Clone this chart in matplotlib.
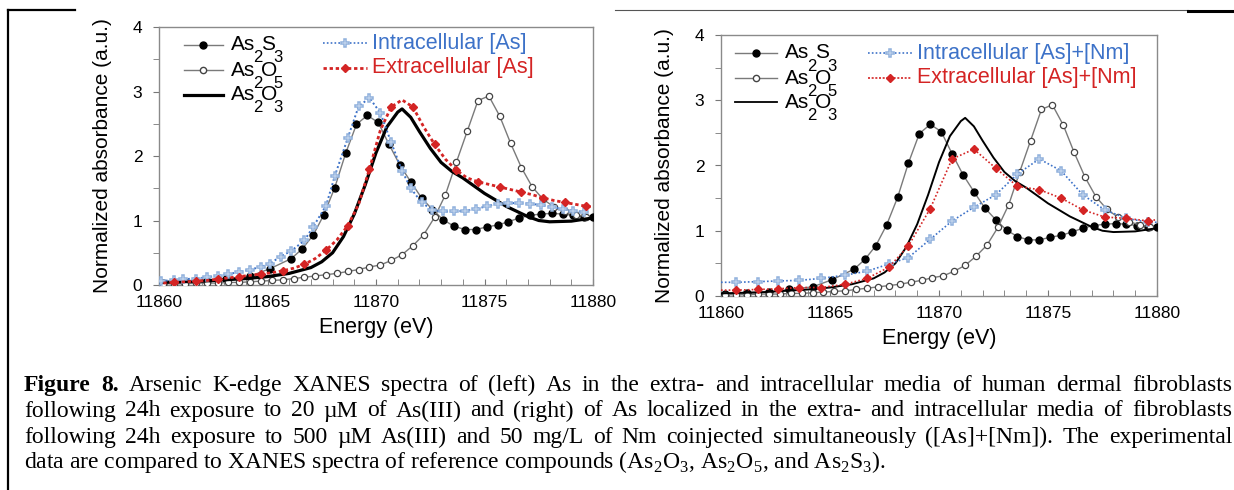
import matplotlib
matplotlib.use("Agg")
import matplotlib.pyplot as plt
from matplotlib.lines import Line2D
import numpy as np

plt.rcParams["font.family"] = ["Liberation Sans", "DejaVu Sans"]
plt.rcParams["mathtext.fontset"] = "custom"
plt.rcParams["mathtext.rm"] = "Liberation Serif"

W, H = 1234, 490

# ── reference compounds (same spectra in both panels) ─────────────────────
E_S3 = [11860.2, 11861.2, 11862.2, 11863.1, 11864.2, 11865.1, 11866.1, 11866.6,
        11867.1, 11867.6, 11868.1, 11868.6, 11869.1, 11869.6, 11870.1, 11870.6,
        11871.1, 11871.6, 11872.1, 11872.6, 11873.1, 11873.6, 11874.1, 11874.6,
        11875.1, 11875.6, 11876.1, 11876.6, 11877.1, 11877.6, 11878.1, 11878.6,
        11879.1, 11879.6, 11880.0]
AS2S3 = [0.03, 0.04, 0.06, 0.10, 0.14, 0.25, 0.41, 0.56, 0.77, 1.09, 1.51, 2.04,
         2.49, 2.63, 2.52, 2.18, 1.86, 1.60, 1.35, 1.17, 1.01, 0.91, 0.86, 0.86,
         0.90, 0.93, 0.98, 1.04, 1.08, 1.10, 1.11, 1.10, 1.08, 1.06, 1.05]

E_O5 = [11860.2, 11860.7, 11861.2, 11861.7, 11862.2, 11862.7, 11863.2, 11863.7,
        11864.2, 11864.7, 11865.2, 11865.7, 11866.2, 11866.7, 11867.2, 11867.7,
        11868.2, 11868.7, 11869.2, 11869.7, 11870.2, 11870.7, 11871.2, 11871.7,
        11872.2, 11872.7, 11873.2, 11873.7, 11874.2, 11874.7, 11875.2, 11875.7,
        11876.2, 11876.7, 11877.2, 11877.7, 11878.2, 11878.7, 11879.2, 11879.7]
AS2O5 = [0.02, 0.02, 0.02, 0.03, 0.03, 0.03, 0.04, 0.04, 0.05, 0.06, 0.07, 0.08,
         0.10, 0.12, 0.14, 0.16, 0.18, 0.21, 0.24, 0.28, 0.31, 0.38, 0.47, 0.61,
         0.78, 1.05, 1.40, 1.90, 2.38, 2.86, 2.93, 2.62, 2.20, 1.82, 1.52, 1.33,
         1.21, 1.14, 1.09, 1.06]

E_O3 = [11860, 11861, 11862, 11863, 11864, 11865, 11866, 11867, 11867.5, 11868,
        11868.5, 11869, 11869.5, 11870, 11870.5, 11871, 11871.2, 11871.6, 11872,
        11872.5, 11873, 11873.5, 11874, 11875, 11876, 11877, 11877.5, 11878,
        11879, 11880]
AS2O3 = [0.04, 0.05, 0.06, 0.08, 0.10, 0.13, 0.18, 0.27, 0.36, 0.50, 0.75, 1.10,
         1.55, 2.05, 2.45, 2.68, 2.73, 2.60, 2.38, 2.12, 1.90, 1.76, 1.66, 1.42,
         1.22, 1.06, 1.00, 0.98, 0.99, 1.04]

# ── left panel: 20 uM As(III) ─────────────────────────────────────────────
E_IN_L = [11860.1, 11860.7, 11861.1, 11861.7, 11862.2, 11862.7, 11863.2, 11863.7,
          11864.2, 11864.7, 11865.1, 11865.6, 11866.1, 11866.7, 11867.1, 11867.7,
          11868.1, 11868.7, 11869.2, 11869.7, 11870.2, 11870.7, 11871.2, 11871.6,
          11872.1, 11872.6, 11873.1, 11873.6, 11874.1, 11874.6, 11875.1, 11875.6,
          11876.1, 11876.6, 11877.1, 11877.6, 11878.1, 11878.6, 11879.1, 11879.6]
INTRA_L = [0.06, 0.08, 0.09, 0.10, 0.12, 0.14, 0.17, 0.20, 0.24, 0.28, 0.33, 0.44,
           0.53, 0.69, 0.90, 1.23, 1.69, 2.28, 2.77, 2.90, 2.67, 2.21, 1.77, 1.50,
           1.28, 1.16, 1.14, 1.14, 1.15, 1.18, 1.22, 1.26, 1.27, 1.27, 1.26, 1.24,
           1.21, 1.18, 1.15, 1.13]

E_EX_L = [11860.2, 11860.7, 11861.2, 11861.7, 11862.2, 11862.7, 11863.2, 11863.7,
          11864.2, 11864.7, 11865.2, 11865.7, 11866.2, 11866.7, 11867.2, 11867.7,
          11868.2, 11868.7, 11869.2, 11869.7, 11870.2, 11870.7, 11871.2, 11871.7,
          11872.2, 11872.7, 11873.2, 11873.7, 11874.2, 11874.7, 11875.2, 11875.7,
          11876.2, 11876.7, 11877.2, 11877.7, 11878.2, 11878.7, 11879.2, 11879.7,
          11880.0]
EXTRA_L = [0.03, 0.04, 0.05, 0.06, 0.07, 0.09, 0.11, 0.13, 0.15, 0.17, 0.19, 0.22,
           0.26, 0.32, 0.41, 0.54, 0.70, 0.92, 1.25, 1.80, 2.40, 2.76, 2.87, 2.76,
           2.45, 2.18, 1.95, 1.78, 1.66, 1.60, 1.56, 1.52, 1.48, 1.44, 1.40, 1.35,
           1.31, 1.28, 1.25, 1.22, 1.21]

# ── right panel: 500 uM As(III) + 50 mg/L Nm ─────────────────────────────
E_NM = [11860.0, 11860.7, 11861.7, 11862.6, 11863.6, 11864.6, 11865.7, 11866.7,
        11867.7, 11868.6, 11869.6, 11870.6, 11871.6, 11872.6, 11873.6, 11874.6,
        11875.6, 11876.6, 11877.6, 11878.6, 11879.6, 11880.0]
INTRA_R = [0.21, 0.21, 0.22, 0.23, 0.24, 0.27, 0.32, 0.38, 0.49, 0.59, 0.87, 1.15,
           1.36, 1.55, 1.87, 2.10, 1.92, 1.55, 1.32, 1.19, 1.13, 1.13]
EXTRA_R = [0.09, 0.09, 0.10, 0.11, 0.13, 0.13, 0.18, 0.27, 0.44, 0.77, 1.34, 2.10,
           2.25, 1.96, 1.68, 1.63, 1.50, 1.32, 1.21, 1.19, 1.15, 1.17]

BLUE = "#3d72c8"
BLUE_MK = "#8fb0dc"
RED = "#d42424"
GREY = "#7a7a7a"


def px(x, y):
    return x / W, 1 - y / H


def axes_at(x0, y0, x1, y1):
    l, t = px(x0, y0)
    r, b = px(x1, y1)
    return fig.add_axes([l, b, r - l, t - b])


fig = plt.figure(figsize=(W / 100, H / 100), dpi=100)
fig.patch.set_facecolor("white")

ax1 = axes_at(159, 27, 593, 285)
ax2 = axes_at(721, 35, 1157, 296)


def draw_refs(ax, thick):
    ax.plot(E_S3, AS2S3, color=GREY, lw=1.0, marker="o", ms=5, mfc="black",
            mec="black", zorder=3)
    ax.plot(E_O5, AS2O5, color=GREY, lw=1.0, marker="o", ms=4.5, mfc="white",
            mec="#444444", mew=0.9, zorder=3)
    ax.plot(E_O3, AS2O3, color="black", lw=2.3 if thick else 1.4, zorder=4)


draw_refs(ax1, True)
ax1.plot(E_IN_L, INTRA_L, color=BLUE, lw=1.4, ls=(0, (1, 1.3)), marker="P",
         ms=6, mfc="white", mec=BLUE_MK, mew=1.1, zorder=5)
ax1.plot(E_EX_L, EXTRA_L, color=RED, lw=2.0, ls=(0, (1.2, 1.0)), marker="D",
         ms=4.5, mfc=RED, mec=RED, markevery=(1, 2), zorder=5)

draw_refs(ax2, False)
inner = slice(1, len(E_NM) - 1)
ax2.plot(E_NM, INTRA_R, color=BLUE, lw=1.2, ls=(0, (1, 1.3)), marker="P",
         ms=6, mfc="white", mec=BLUE_MK, mew=1.1, markevery=inner, zorder=5)
ax2.plot(E_NM, EXTRA_R, color=RED, lw=1.2, ls=(0, (1, 1.3)), marker="D",
         ms=4.5, mfc=RED, mec=RED, markevery=inner, zorder=5)

for ax in (ax1, ax2):
    ax.set_xlim(11860, 11880)
    ax.set_ylim(0, 4)
    ax.set_xticks([11860, 11865, 11870, 11875, 11880])
    ax.set_xticks(np.arange(11860, 11881, 1), minor=True)
    ax.set_yticks([0, 1, 2, 3, 4])
    ax.set_yticks(np.arange(0, 4.01, 0.5), minor=True)
    ax.tick_params(axis="x", which="both", direction="in", length=4,
                   color="#777777", labelsize=12.5, pad=7)
    ax.tick_params(axis="y", which="both", direction="out", length=4,
                   color="#777777", labelsize=12.5, pad=8)
    for s in ax.spines.values():
        s.set_color("#8a8a8a")
        s.set_linewidth(1.0)
    ax.set_xlabel("Energy (eV)", fontsize=15.5, labelpad=5)
    ax.set_ylabel("Normalized absorbance (a.u.)", fontsize=15, labelpad=15)


def legend_row(x, y, kind, thick):
    xa, ya = px(x[0], y)
    xb, _ = px(x[1], y)
    xs = [xa, (xa + xb) / 2, xb]
    if kind == "S3":
        h = Line2D(xs, [ya] * 3, color=GREY, lw=1.0, marker="o", ms=5,
                   mfc="black", mec="black", markevery=[1])
    elif kind == "O5":
        h = Line2D(xs, [ya] * 3, color=GREY, lw=1.0, marker="o", ms=4.5,
                   mfc="white", mec="#444444", markevery=[1])
    else:
        h = Line2D(xs, [ya] * 3, color="black", lw=2.3 if thick else 1.3)
    h.set_transform(fig.transFigure)
    fig.add_artist(h)


def formula(x, y, letter, d1, d2, size=15):
    # "As" and letter, with the subscripts dropped half a row below
    fig.text(*px(x, y), "As", fontsize=size, va="center", ha="left")
    fig.text(*px(x + 30, y), letter, fontsize=size, va="center", ha="left")
    fig.text(*px(x + 22, y + 13), d1, fontsize=size * 0.8, va="center")
    fig.text(*px(x + 42, y + 13), d2, fontsize=size * 0.8, va="center")


def exp_row(x, y, text_x, label, color, mk, thick):
    xa, ya = px(x[0], y)
    xb, _ = px(x[1], y)
    xs = [xa, (xa + xb) / 2, xb]
    if mk == "P":
        h = Line2D(xs, [ya] * 3, color=color, lw=1.2, ls=(0, (1, 1.3)),
                   marker="P", ms=6, mfc="white", mec=BLUE_MK, mew=1.1,
                   markevery=[1])
    else:
        h = Line2D(xs, [ya] * 3, color=color, lw=2.0 if thick else 1.2,
                   ls=(0, (1.2, 1.0)), marker="D", ms=4.5, mfc=color,
                   mec=color, markevery=[1])
    h.set_transform(fig.transFigure)
    fig.add_artist(h)
    fig.text(*px(text_x, y), label, fontsize=15.5, color=color, va="center")


# left legend
for kind, yy in (("S3", 45), ("O5", 70), ("O3", 95)):
    legend_row((184, 223), yy, kind, True)
formula(231, 45, "S", "2", "3")
formula(231, 70, "O", "2", "5")
formula(231, 95, "O", "2", "3")
exp_row((323, 367), 43, 372, "Intracellular [As]", BLUE, "P", True)
exp_row((323, 367), 68, 372, "Extracellular [As]", RED, "D", True)

# right legend
for kind, yy in (("S3", 53), ("O5", 78), ("O3", 102)):
    legend_row((735, 777), yy, kind, False)
formula(785, 53, "S", "2", "3")
formula(785, 78, "O", "2", "5")
formula(785, 102, "O", "2", "3")
exp_row((868, 912), 53, 917, "Intracellular [As]+[Nm]", BLUE, "P", False)
exp_row((868, 912), 78, 917, "Extracellular [As]+[Nm]", RED, "D", False)

# page frame fragments
for (xa, xb, y, lw, c) in ((8, 75, 10, 1.6, "black"), (615, 1188, 10, 0.8, "#555555"),
                           (1188, 1234, 11, 2.2, "black")):
    fig.add_artist(Line2D([xa / W, xb / W], [1 - y / H] * 2, color=c, lw=lw,
                          transform=fig.transFigure))
fig.add_artist(Line2D([8 / W, 8 / W], [1 - 10 / H, 0], color="black", lw=1.6,
                      transform=fig.transFigure))

# caption, justified
CAP_LINES = [
    [("Figure", "bold"), ("8.", "bold")] + [(w, "normal") for w in
     "Arsenic K-edge XANES spectra of (left) As in the extra- and intracellular media of human dermal fibroblasts".split()],
    [(w, "normal") for w in
     "following 24h exposure to 20 \u00b5M of As(III) and (right) of As localized in the extra- and intracellular media of fibroblasts".split()],
    [(w, "normal") for w in
     "following 24h exposure to 500 \u00b5M As(III) and 50 mg/L of Nm coinjected simultaneously ([As]+[Nm]). The experimental".split()],
]
LAST_LINE = (r"data are compared to XANES spectra of reference compounds "
             r"(As$_2$O$_3$, As$_2$O$_5$, and As$_2$S$_3$).")
CAP_Y = [385, 411, 437, 462]
CAP_X0, CAP_X1 = 24, 1232
CAP_SIZE = 17

renderer = fig.canvas.get_renderer()
for words, yy in zip(CAP_LINES, CAP_Y):
    texts = [fig.text(0, 1 - yy / H, w, fontsize=CAP_SIZE, fontweight=wt,
                      family="Liberation Serif", va="center") for w, wt in words]
    widths = [t.get_window_extent(renderer).width for t in texts]
    gap = (CAP_X1 - CAP_X0 - sum(widths)) / (len(texts) - 1)
    xx = CAP_X0
    for t, wd in zip(texts, widths):
        t.set_x(xx / W)
        xx += wd + gap
fig.text(CAP_X0 / W, 1 - CAP_Y[3] / H, LAST_LINE, fontsize=CAP_SIZE,
         family="Liberation Serif", va="center")

fig.savefig("out.png", dpi=100, facecolor="white")
